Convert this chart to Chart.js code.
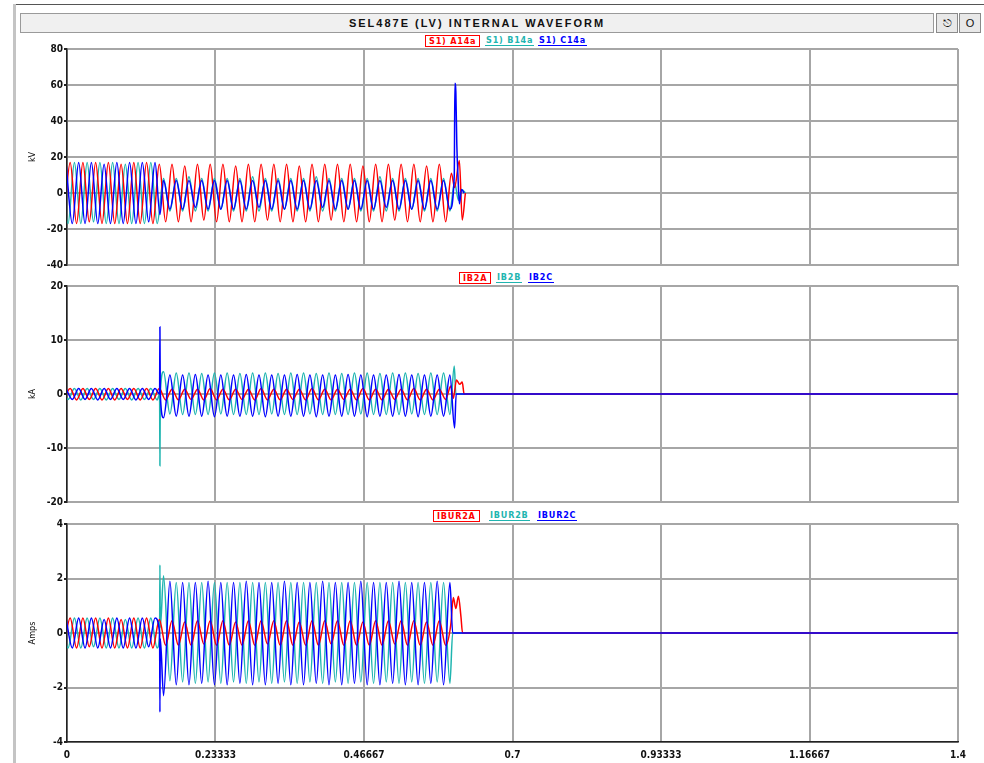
<!DOCTYPE html>
<html>
<head>
<meta charset="utf-8">
<script src="https://cdn.jsdelivr.net/npm/chart.js@4.4.1/dist/chart.umd.min.js"></script>
<style>
  body { margin: 0; width: 984px; height: 763px; background: #fff; position: relative; overflow: hidden;
         font-family: "Liberation Sans Narrow", "DejaVu Sans Condensed", "Liberation Sans", sans-serif; }
  #topLine { position: absolute; left: 14px; top: 4px; width: 970px; height: 1px; background: #555; }
  #leftBar { position: absolute; left: 13px; top: 4px; width: 3px; height: 759px; background: #c4c4c4; }
  #titleBar { position: absolute; left: 20px; top: 13px; width: 912px; height: 18px; background: #f0f0f0;
              border: 1px solid #9a9a9a; text-align: center; font: bold 11px "Liberation Sans", Arial, sans-serif;
              line-height: 18px; letter-spacing: 2px; color: #111; }
  .btn { position: absolute; top: 13px; width: 20px; height: 18px; background: #e8e8e8; border: 1px solid #8a8a8a;
         font: 11px "Liberation Sans", sans-serif; text-align: center; line-height: 18px; color: #111; }
  .legend { position: absolute; left: 0; width: 984px; height: 12px; font-size: 9px; font-weight: bold; }
  .legend span { position: absolute; top: 0; line-height: 10px; letter-spacing: 0.8px; white-space: nowrap; }
  .legend .boxed { border: 1px solid #ff0000; padding: 0 3px; }
  .legend .under { border-bottom: 1px solid currentColor; padding: 0 1px; }
  canvas { position: absolute; left: 0; }
</style>
</head>
<body>
<div id="topLine"></div>
<div id="leftBar"></div>
<div id="titleBar">SEL487E (LV) INTERNAL WAVEFORM</div>
<div class="btn" style="left:936px">&#9099;</div>
<div class="btn" style="left:959px">O</div>

<div class="legend" style="top:35px">
  <span class="boxed" style="left:425px;color:#ff0000">S1) A14a</span>
  <span class="under" style="left:485px;color:#1fb5b0">S1) B14a</span>
  <span class="under" style="left:538px;color:#0000ff">S1) C14a</span>
</div>
<div class="legend" style="top:272px">
  <span class="boxed" style="left:459px;color:#ff0000">IB2A</span>
  <span class="under" style="left:496px;color:#1fb5b0">IB2B</span>
  <span class="under" style="left:528px;color:#0000ff">IB2C</span>
</div>
<div class="legend" style="top:510px">
  <span class="boxed" style="left:433px;color:#ff0000">IBUR2A</span>
  <span class="under" style="left:489px;color:#1fb5b0">IBUR2B</span>
  <span class="under" style="left:537px;color:#0000ff">IBUR2C</span>
</div>

<canvas id="kvChart" width="984" height="232" style="top:40px"></canvas>
<canvas id="kaChart" width="984" height="232" style="top:277px"></canvas>
<canvas id="ampsChart" width="984" height="248" style="top:515px"></canvas>

<script>
// time axis (seconds)
var xTickValues = [0, 0.233333, 0.466667, 0.7, 0.933333, 1.166667, 1.4];
var xTickLabels = ["0", "0.23333", "0.46667", "0.7", "0.93333", "1.16667", "1.4"];

// y ticks per panel
var kvTicks = [-40, -20, 0, 20, 40, 60, 80];
var kaTicks = [-20, -10, 0, 10, 20];
var ampsTicks = [-4, -2, 0, 2, 4];

// peaks come every half cycle
var halfCycle = 0.01;

// ---- kV panel ----
// runs: [time of first peak, half-cycle peak values]
var kvARuns = [
  [-0.005, [-17,17,-17,17,-16,17,-17,17,-17,16,-17,17,-17,17,-17,16]],
  [0.155, [-16,16,-16,15,-16, 16,-15,16,-16,16, -16,15,-16,16,-16, 16,-15,16,-16,16,
           -16,15,-16,16,-16, 16,-15,16,-16,16, -16,15,-16,16,-16, 16,-15,16,-16,16, -16,15,-16,16,-16]]
];
var kvAPoints = [[0.604, 11], [0.609, 3], [0.6165, 18], [0.621, -15], [0.626, 0]];

var kvBRuns = [
  [-0.00833, [17,-17,17,-17,17,-16,17,-17,17,-17,16,-17,17,-17,17,-17]],
  [0.15167, [8,-10,8,-10,9,-10,8,-10,8,-9, 8,-10,8,-10,9,-10,8,-10,8,-9,
             8,-10,8,-10,9,-10,8,-10,8,-9, 8,-10,8,-10,9,-10,8,-10,8,-9, 8,-10,8,-10,8,-10]]
];
var kvBPoints = [[0.609, 6], [0.615, -4], [0.62, 2], [0.626, 0]];

var kvCRuns = [
  [-0.00167, [17,-17,17,-17,17,-17,16,-17,17,-17,17,-17,17,-16,17]],
  [0.15167, [7,-9,7,-9,7,-8,7,-9,7,-9, 7,-9,7,-9,7,-8,7,-9,7,-9,
             7,-9,7,-9,7,-8,7,-9,7,-9, 7,-9,7,-9,7,-8,7,-9,7,-9, 7,-9,7,-9,7,-9]]
];
var kvCPoints = [[0.146, -12], [0.6085, 10], [0.6095, 61], [0.611, 56], [0.6125, 27],
                 [0.6145, 8], [0.6165, -6], [0.62, 2], [0.624, 0]];

// ---- kA panel ----
var kaARuns = [
  [-0.005, [-1.1,1,-1.1,1,-1,1,-1.1,1,-1.1,1,-1,1,-1.1,1,-1.1,1]],
  [0.155, [-1.1,0.9,-1.1,0.9,-1, 0.9,-1.1,1,-1.1,0.9, -1.1,0.9,-1,0.9,-1.1, 1,-1.1,0.9,-1.1,0.9,
           -1,0.9,-1.1,1,-1.1, 0.9,-1.1,0.9,-1,0.9, -1.1,1,-1.1,0.9,-1.1, 0.9,-1,0.9,-1.1,1, -1.1,0.9,-1.1,0.9,-1]]
];
var kaAPoints = [[0.603, 1.5], [0.607, -0.8], [0.612, 2.6], [0.617, 1.8], [0.621, 2.2], [0.624, 0], [1.4, 0]];

var kaBRuns = [
  [-0.00833, [1,-1,1,-1.1,1,-1,1,-1.1,1,-1,1,-1.1,1,-1,1,-1.1]],
  [0.15167, [4.1,-3.7,3.9,-3.8,3.9,-3.8,3.8,-3.8,3.9,-3.7, 3.9,-3.8,3.8,-3.8,3.9,-3.8,3.9,-3.7,3.8,-3.8,
             3.9,-3.8,3.9,-3.7,3.8,-3.8,3.9,-3.8,3.8,-3.8, 3.9,-3.7,3.9,-3.8,3.8,-3.8,3.9,-3.8,3.9,-3.7, 3.8,-3.8,3.9,-3.8,3.9,-3.8]]
];
var kaBPoints = [[0.1455, 0], [0.146, -13.3], [0.1466, 0], [0.6085, 5.2], [0.611, 0], [1.4, 0]];

var kaCRuns = [
  [-0.00167, [1,-1,1,-1,1,-1.1,1,-1,1,-1,1,-1.1,1,-1,1]],
  [0.15167, [-4.4,3.5,-4.1,3.5,-4.1,3.6,-4.1,3.5,-4.2,3.5, -4.1,3.5,-4.1,3.6,-4.1,3.5,-4.2,3.5,-4.1,3.5,
             -4.1,3.6,-4.1,3.5,-4.2,3.5,-4.1,3.5,-4.1,3.6, -4.1,3.5,-4.2,3.5,-4.1,3.5,-4.1,3.6,-4.1,3.5, -4.2,3.5,-4.1,3.5,-4.1,3.5]]
];
var kaCPoints = [[0.1455, 0], [0.146, 12.4], [0.1466, 0], [0.609, -6.3], [0.6115, 0], [1.4, 0]];

// ---- Amps panel ----
var ampsARuns = [
  [-0.005, [-0.55,0.55,-0.55,0.55,-0.5,0.55,-0.55,0.55,-0.55,0.5,-0.55,0.55,-0.55,0.55,-0.55,0.5]],
  [0.155, [-0.45,0.45,-0.45,0.4,-0.45, 0.45,-0.4,0.45,-0.45,0.45, -0.45,0.4,-0.45,0.45,-0.45, 0.45,-0.4,0.45,-0.45,0.45,
           -0.45,0.4,-0.45,0.45,-0.45, 0.45,-0.4,0.45,-0.45,0.45, -0.45,0.4,-0.45,0.45,-0.45, 0.45,-0.4,0.45,-0.45,0.45, -0.45,0.4,-0.45,0.45,-0.45]]
];
var ampsAPoints = [[0.603, 0.3], [0.607, 1.3], [0.611, 0.9], [0.615, 1.35], [0.619, 0.6], [0.6215, 0], [1.4, 0]];

var ampsBRuns = [
  [-0.00833, [0.55,-0.55,0.55,-0.55,0.55,-0.5,0.55,-0.55,0.55,-0.55,0.5,-0.55,0.55,-0.55,0.55,-0.55]],
  [0.15167, [2.1,-1.75,1.85,-1.8,1.85,-1.85,1.85,-1.8,1.85,-1.85, 1.85,-1.8,1.85,-1.85,1.85,-1.8,1.85,-1.85,1.85,-1.8,
             1.85,-1.85,1.85,-1.8,1.85,-1.85,1.85,-1.8,1.85,-1.85, 1.85,-1.8,1.85,-1.85,1.85,-1.8,1.85,-1.85,1.85,-1.8, 1.85,-1.85,1.85,-1.8,1.85,-1.85]]
];
var ampsBPoints = [[0.1455, 0], [0.146, 2.5], [0.1466, 0.2], [0.606, 0], [1.4, 0]];

var ampsCRuns = [
  [-0.00167, [0.55,-0.55,0.55,-0.55,0.55,-0.55,0.5,-0.55,0.55,-0.55,0.55,-0.55,0.55,-0.5,0.55]],
  [0.15167, [-2.3,1.9,-1.9,1.85,-1.9,1.85,-1.85,1.9,-1.9,1.85, -1.9,1.85,-1.85,1.9,-1.9,1.85,-1.9,1.85,-1.85,1.9,
             -1.9,1.85,-1.9,1.85,-1.85,1.9,-1.9,1.85,-1.9,1.85, -1.85,1.9,-1.9,1.85,-1.9,1.85,-1.85,1.9,-1.9,1.85, -1.9,1.85,-1.85,1.9,-1.9,1.85]]
];
var ampsCPoints = [[0.1455, 0], [0.146, -2.9], [0.1466, -0.2], [0.606, 0], [1.4, 0]];

var colorA = "#ff0000";
var colorB = "#1fb5b0";
var colorC = "#0000ff";
var narrowFont = "'Liberation Sans Narrow', 'DejaVu Sans Condensed', sans-serif";

// expand the peak runs and merge the odd points, sorted by time
function buildTrace(runs, points) {
  var out = [];
  for (var r = 0; r < runs.length; r++) {
    var t0 = runs[r][0];
    var vals = runs[r][1];
    for (var i = 0; i < vals.length; i++) {
      out.push({ x: t0 + i * halfCycle, y: vals[i] });
    }
  }
  for (var p = 0; p < points.length; p++) {
    out.push({ x: points[p][0], y: points[p][1] });
  }
  out.sort(function (a, b) { return a.x - b.x; });
  return out;
}

function line(data, color) {
  return {
    data: data,
    borderColor: color,
    borderWidth: 1.5,
    pointRadius: 0,
    cubicInterpolationMode: "monotone",
    fill: false,
  };
}

function drawPanel(id, unit, yTicks, traces, showX) {
  var ctx = document.getElementById(id).getContext("2d");
  new Chart(ctx, {
    type: "line",
    data: {
      // blue on top, then red, then cyan
      datasets: [
        line(buildTrace(traces.c[0], traces.c[1]), colorC),
        line(buildTrace(traces.a[0], traces.a[1]), colorA),
        line(buildTrace(traces.b[0], traces.b[1]), colorB),
      ],
    },
    options: {
      responsive: false,
      animation: false,
      events: [],
      layout: { padding: { left: 0, right: 26, top: 9, bottom: 0 } },
      plugins: { legend: { display: false }, tooltip: { enabled: false } },
      scales: {
        x: {
          type: "linear",
          min: 0,
          max: 1.4,
          afterBuildTicks: function (scale) {
            scale.ticks = xTickValues.map(function (v) { return { value: v }; });
          },
          afterFit: function (scale) { scale.height = showX ? 21 : 7; },
          grid: { color: "#a6a6a6", lineWidth: 2, drawTicks: false },
          border: { color: showX ? "#222" : "#a6a6a6", width: showX ? 1.5 : 2 },
          ticks: {
            display: showX,
            autoSkip: false,
            maxRotation: 0,
            padding: 7,
            color: "#111",
            font: { family: narrowFont, size: 10, weight: "bold" },
            callback: function (v, i) { return xTickLabels[i]; },
          },
        },
        y: {
          min: yTicks[0],
          max: yTicks[yTicks.length - 1],
          afterBuildTicks: function (scale) {
            scale.ticks = yTicks.map(function (v) { return { value: v }; });
          },
          afterFit: function (scale) { scale.width = 67; },
          grid: { color: "#a6a6a6", lineWidth: 2, tickLength: 3, tickColor: "#222" },
          border: { color: "#222", width: 1.5 },
          ticks: {
            padding: 1,
            color: "#111",
            font: { family: narrowFont, size: 10, weight: "bold" },
          },
          title: {
            display: true,
            text: unit,
            color: "#111",
            padding: { top: 27, bottom: 0 },
            font: { family: narrowFont, size: 9 },
          },
        },
      },
    },
  });
}

drawPanel("kvChart", "kV", kvTicks, {
  a: [kvARuns, kvAPoints], b: [kvBRuns, kvBPoints], c: [kvCRuns, kvCPoints],
}, false);
drawPanel("kaChart", "kA", kaTicks, {
  a: [kaARuns, kaAPoints], b: [kaBRuns, kaBPoints], c: [kaCRuns, kaCPoints],
}, false);
drawPanel("ampsChart", "Amps", ampsTicks, {
  a: [ampsARuns, ampsAPoints], b: [ampsBRuns, ampsBPoints], c: [ampsCRuns, ampsCPoints],
}, true);
</script>
</body>
</html>
